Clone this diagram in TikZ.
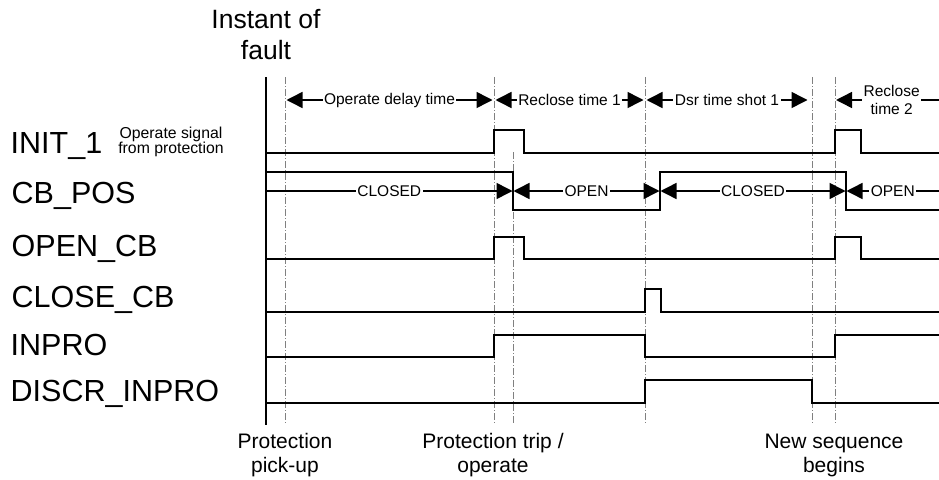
\documentclass[tikz,border=0pt]{standalone}
\usepackage{fontspec}
\setmainfont{Liberation Sans}
\usetikzlibrary{arrows.meta}
\begin{document}
\begin{tikzpicture}[x=1pt,y=-1pt,
  >={Triangle[length=16pt,width=16pt]},
  sig/.style={line width=2.8pt, line join=miter},
  axisline/.style={line width=2pt},
  guide/.style={gray, line width=0.8pt, dash pattern=on 7pt off 2pt on 1pt off 2pt},
  span/.style={line width=1.5pt},
  lbl/.style={fill=white, inner sep=1.5pt, font=\fontsize{15.5}{18}\selectfont, align=center},
  signame/.style={anchor=base west, inner sep=0pt, font=\fontsize{30.5}{34}\selectfont},
  evt/.style={anchor=base, inner sep=0pt, align=center, font=\fontsize{21}{24}\selectfont},
]
\useasboundingbox (0,0) rectangle (939,479);
% time references
\coordinate (t0) at (266,0);
\coordinate (t1) at (285,0);
\coordinate (t2) at (494,0);
\coordinate (t3) at (513,0);
\coordinate (t4) at (645,0);
\coordinate (t5) at (660,0);
\coordinate (t6) at (812,0);
\coordinate (t7) at (835,0);
\coordinate (t8) at (846,0);
\coordinate (tE) at (939,0);
\coordinate (rTop) at (0,77);
\coordinate (rMid) at (0,152);
\coordinate (rBot) at (0,423);
\coordinate (rA) at (0,100);
\coordinate (rB) at (0,191);

% guide lines
\foreach \t in {t1,t2,t4,t6,t7}
  \draw[guide] (\t |- rTop) -- (\t |- rBot);
\draw[guide] (t3 |- rMid) -- (t3 |- rBot);
\draw[axisline] (266,77) -- (266,425);

% labels
\node[anchor=base, inner sep=0pt, align=center, font=\fontsize{26.5}{31}\selectfont] (fault) at (266,59) {Instant of\\fault};
\node[signame] (n1) at (10.5,153) {INIT\_1};
\node[anchor=base, inner sep=0pt, align=center, font=\fontsize{15.8}{15}\selectfont] (n1b) at (171,153.5) {Operate signal\\from protection};
\node[signame] (n2) at (11.5,203) {CB\_POS};
\node[signame] (n3) at (11.5,256) {OPEN\_CB};
\node[signame] (n4) at (11.5,307) {CLOSE\_CB};
\node[signame] (n5) at (10.5,355) {INPRO};
\node[signame] (n6) at (10.5,401) {DISCR\_INPRO};

\node[evt] (e1) at (285,472) {Protection\\pick-up};
\node[evt] (e2) at (493,472) {Protection trip /\\operate};
\node[evt] (e3) at (834,472) {New sequence\\begins};

% time spans
\draw[span,<->] ([xshift=1.5pt]t1 |- rA) -- node[lbl] {Operate delay time} ([xshift=-1.5pt]t2 |- rA);
\draw[span,<->] ([xshift=1.5pt]t2 |- rA) -- node[lbl] {Reclose time 1} ([xshift=-1.5pt]t4 |- rA);
\draw[span,<->] ([xshift=1.5pt]t4 |- rA) -- node[lbl] {Dsr time shot 1} ([xshift=-4.5pt]t6 |- rA);
\draw[span,<-] ([xshift=1pt]t7 |- rA) -- node[lbl, pos=0.54] {Reclose\\time 2} (tE |- rA);

% CB position spans
\draw[span,->] (t0 |- rB) -- node[lbl] {CLOSED} ([xshift=-0.5pt]t3 |- rB);
\draw[span,<->] ([xshift=0.5pt]t3 |- rB) -- node[lbl] {OPEN} ([xshift=-0.5pt]t5 |- rB);
\draw[span,<->] ([xshift=0.5pt]t5 |- rB) -- node[lbl] {CLOSED} ([xshift=-0.5pt]t8 |- rB);
\draw[span,<-] ([xshift=0.5pt]t8 |- rB) -- node[lbl] {OPEN} (tE |- rB);

% waveforms
\draw[sig] (266,153) -- (494,153) -- (494,130) -- (524,130) -- (524,153) -- (835,153) -- (835,130) -- (861,130) -- (861,153) -- (939,153);
\draw[sig] (266,172) -- (513,172) -- (513,210) -- (660,210) -- (660,172) -- (846,172) -- (846,210) -- (939,210);
\draw[sig] (266,259) -- (494,259) -- (494,237) -- (524,237) -- (524,259) -- (835,259) -- (835,237) -- (861,237) -- (861,259) -- (939,259);
\draw[sig] (266,312) -- (645,312) -- (645,289) -- (661,289) -- (661,312) -- (939,312);
\draw[sig] (266,357) -- (494,357) -- (494,335) -- (645,335) -- (645,357) -- (835,357) -- (835,335) -- (939,335);
\draw[sig] (266,403) -- (645,403) -- (645,380) -- (812,380) -- (812,403) -- (939,403);
\end{tikzpicture}
\end{document}
